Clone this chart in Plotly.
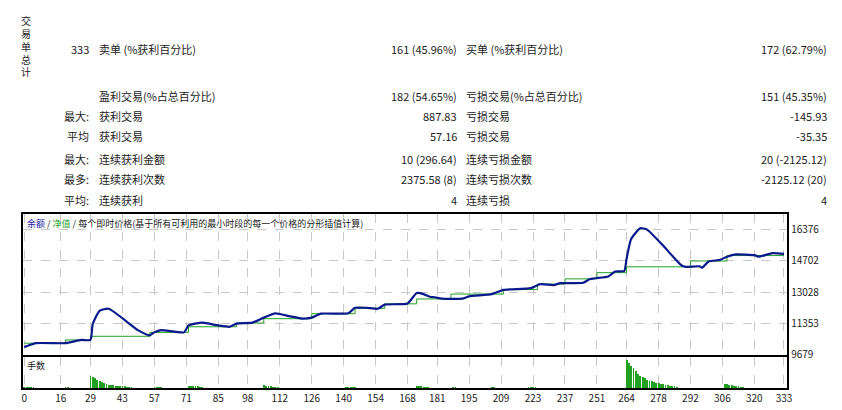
import plotly.graph_objects as go
from plotly.subplots import make_subplots

# balance curve (trade index -> value)
bal_x = [0, 5, 18, 25, 29, 30, 33, 37, 50, 55, 57, 60, 70, 72, 78, 85, 90, 93, 100, 105, 110, 116,
         122, 126, 130, 142, 145, 150, 155, 158, 168, 172, 175, 178, 180, 183, 192, 195, 205, 210,
         222, 226, 232, 235, 245, 248, 256, 259, 263, 264, 266, 270, 273, 280, 288, 290, 296, 297,
         300, 305, 308, 312, 320, 322, 328, 333]
bal_y = [10097, 10307, 10307, 10480, 10480, 11316, 12030, 12137, 10987, 10725, 10882, 11000, 10882,
         11250, 11400, 11250, 11180, 11350, 11400, 11667, 11890, 11750, 11610, 11667, 11876, 11900,
         12190, 12190, 12137, 12360, 12420, 12974, 12920, 12765, 12750, 12676, 12676, 12800, 12920,
         13146, 13235, 13445, 13400, 13500, 13520, 13720, 13860, 14125, 14150, 14800, 15850, 16425,
         16350, 15500, 14454, 14370, 14400, 14320, 14650, 14740, 14910, 15030, 14990, 14910, 15100,
         15060]

# equity step levels
eq_x = [0, 18, 29, 55, 72, 93, 105, 126, 145, 158, 172, 187, 210, 225, 237, 251, 264, 292, 308, 333]
eq_y = [10307, 10480, 10673, 10882, 11180, 11380, 11610, 11876, 12160, 12400, 12660, 12920, 13160,
        13450, 13730, 14060, 14370, 14680, 14970, 14970]

# lots per trade
lot_x = [0, 1, 2, 3, 4, 18, 19,
         29, 30, 31, 32, 33, 34, 35, 36, 37, 38, 39, 40, 41, 42, 43, 44, 45, 46, 47,
         57, 58, 59, 60, 72, 73, 74, 75, 76, 77, 78,
         105, 106, 107, 108, 109, 110, 111, 141, 142, 143, 144, 145, 172, 173, 174, 175, 176, 177,
         188, 189, 205, 206, 221, 222, 223, 224,
         264, 265, 266, 267, 268, 269, 270, 271, 272, 273, 274, 275, 276, 277, 278, 279, 280, 281,
         282, 283, 284, 285, 286, 307, 308, 309, 310, 311, 312, 313, 314, 315]
lot_y = [0.08, 0.08, 0.08, 0.08, 0.08, 0.08, 0.08,
         0.9, 0.8, 0.7, 0.6, 0.5, 0.45, 0.35, 0.3, 0.25, 0.25, 0.22, 0.2, 0.2, 0.18, 0.15, 0.15, 0.12,
         0.1, 0.08,
         0.12, 0.12, 0.1, 0.08, 0.2, 0.2, 0.18, 0.15, 0.15, 0.12, 0.1,
         0.22, 0.2, 0.18, 0.15, 0.12, 0.1, 0.08, 0.12, 0.12, 0.1, 0.1, 0.08, 0.2, 0.18, 0.15, 0.12,
         0.1, 0.08, 0.08, 0.08, 0.08, 0.08, 0.12, 0.12, 0.1, 0.1,
         2.0, 1.8, 1.6, 1.4, 1.2, 1.0, 0.9, 0.8, 0.7, 0.6, 0.55, 0.5, 0.45, 0.4, 0.35, 0.3, 0.3, 0.25,
         0.25, 0.2, 0.2, 0.15, 0.12, 0.3, 0.28, 0.25, 0.22, 0.2, 0.18, 0.15, 0.12, 0.1]

x_ticks = [0, 16, 29, 43, 57, 71, 85, 98, 112, 126, 140, 154, 168, 181, 195, 209, 223, 237, 251,
           264, 278, 292, 306, 320, 333]
y_ticks = [9679, 11353, 13028, 14702, 16376]

rows = [
    ("333", "卖单 (%获利百分比)", "161 (45.96%)", "买单 (%获利百分比)", "172 (62.79%)", 42),
    ("", "盈利交易(%占总百分比)", "182 (54.65%)", "亏损交易(%占总百分比)", "151 (45.35%)", 90),
    ("最大:", "获利交易", "887.83", "亏损交易", "-145.93", 110),
    ("平均", "获利交易", "57.16", "亏损交易", "-35.35", 130),
    ("最大:", "连续获利金额", "10 (296.64)", "连续亏损金额", "20 (-2125.12)", 154),
    ("最多:", "连续获利次数", "2375.58 (8)", "连续亏损次数", "-2125.12 (20)", 174),
    ("平均:", "连续获利", "4", "连续亏损", "4", 195),
]

W, H = 842, 410
FONT = "Noto Sans CJK SC"

fig = make_subplots(rows=2, cols=1, shared_xaxes=False, vertical_spacing=0)
fig.add_trace(go.Scatter(x=eq_x, y=eq_y, mode="lines", line=dict(color="#22a022", width=1, shape="hv")), 1, 1)
fig.add_trace(go.Scatter(x=bal_x, y=bal_y, mode="lines", line=dict(color="#0a1a8c", width=2.2, shape="spline", smoothing=0.5)), 1, 1)
fig.add_trace(go.Bar(x=lot_x, y=lot_y, marker=dict(color="#22a022", line_width=0), width=0.35), 2, 1)

axis_common = dict(range=[-0.6, 334.5], tickvals=x_ticks, showgrid=True, gridcolor="#c8c8c8",
                   griddash="dash", gridwidth=1, showline=True, linecolor="black", linewidth=1.5,
                   mirror=True, zeroline=False, tickfont=dict(size=10, color="#222", family=FONT))
fig.update_layout(
    width=W, height=H, margin=dict(l=0, r=0, t=0, b=0), showlegend=False,
    plot_bgcolor="white", paper_bgcolor="white", bargap=0,
    xaxis=dict(axis_common, domain=[14 / W, 784 / W], showticklabels=False, ticks=""),
    xaxis2=dict(axis_common, domain=[14 / W, 784 / W], ticks="", ticklen=0),
    yaxis=dict(domain=[1 - 353 / H, 1 - 210 / H], range=[9679, 17160], tickvals=y_ticks,
               ticktext=[str(v) for v in y_ticks],
               side="right", showgrid=True, gridcolor="#c8c8c8", griddash="dash", showline=True,
               linecolor="black", linewidth=1.5, mirror=True, zeroline=False,
               tickfont=dict(size=10, color="#222", family=FONT)),
    yaxis2=dict(domain=[1 - 387 / H, 1 - 355 / H], range=[0, 2.2], showticklabels=False,
                showgrid=False, showline=True, linecolor="black", linewidth=1.5, mirror=True,
                zeroline=False),
)

def px_ann(x, y, text, anchor="left", size=11, color="#222"):
    fig.add_annotation(x=x / W, y=1 - y / H, xref="paper", yref="paper", text=text,
                       showarrow=False, xanchor=anchor, yanchor="middle",
                       font=dict(size=size, color=color, family=FONT))

# vertical header, one glyph per line
for i, ch in enumerate("交易单总计"):
    px_ann(17, 13 + i * 13, ch, anchor="center", size=10)
for a, b, c, d, e, y in rows:
    if a:
        px_ann(83, y, a, anchor="right")
    px_ann(89, y, b)
    px_ann(453, y, c, anchor="right")
    px_ann(458, y, d)
    px_ann(826, y, e, anchor="right")

px_ann(16, 219, "<span style='color:#1a1aa0'>余额</span> / <span style='color:#22a022'>净值</span>"
       " / 每个即时价格(基于所有可利用的最小时段的每一个价格的分形插值计算)", size=9)
px_ann(16, 364, "手数", size=9)

fig.write_html("out.html")
